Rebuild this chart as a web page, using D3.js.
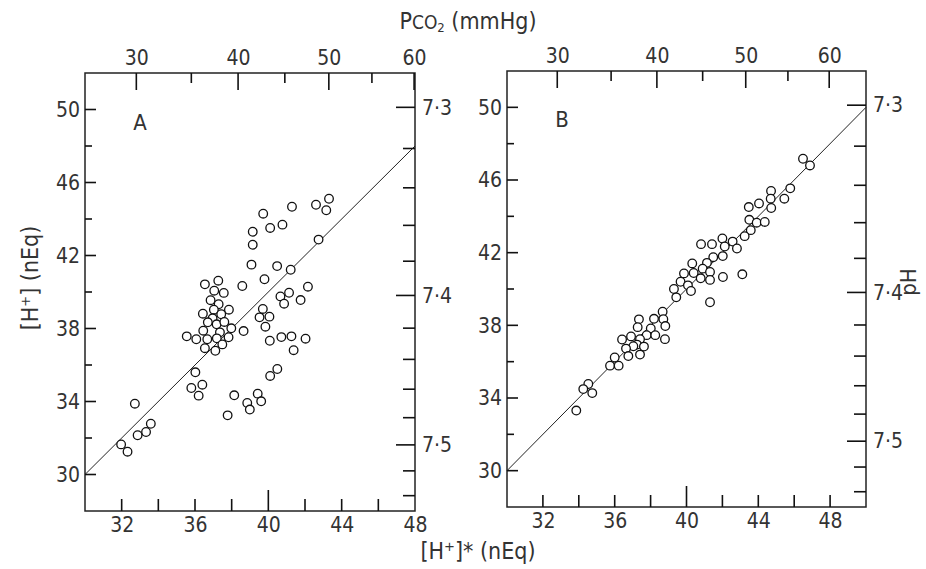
<!DOCTYPE html>
<html>
<head>
<meta charset="utf-8">
<script src="https://cdn.jsdelivr.net/npm/d3@7"></script>
<style>
body{margin:0;background:#fff}
text{font-family:"Liberation Sans Narrow","DejaVu Sans Condensed","Roboto Condensed",sans-serif;fill:#333;font-size:21px}
</style>
</head>
<body>
<svg id="chart"></svg>
<script>
var WIDTH = 926
var HEIGHT = 569
var svg = d3.select("#chart").attr("width", WIDTH).attr("height", HEIGHT)

// panel A : [H+]* (x) against measured [H+] (y), nEq
var aX = [36.54,37.27,37.05,37.57,36.85,37.29,37.85,37.03,36.43,37.43,36.96,36.70,37.18,37.60,37.98,36.45,37.36,35.55,36.07,36.67,37.19,37.83,37.49,36.54,37.11,36.02,35.80,36.40,36.20,32.72,38.14,39.42,39.61,38.85,38.99,37.78,33.59,33.33,32.87,31.97,32.32,43.31,42.60,43.16,41.29,39.72,40.77,40.10,39.15,39.15,42.74,39.08,40.48,41.22,39.79,38.58,42.16,41.13,40.66,40.86,41.76,39.70,39.52,40.06,39.84,38.65,40.08,40.71,41.26,42.03,41.38,40.49,40.10]
var aY = [40.42,40.62,40.07,39.95,39.55,39.33,39.03,39.03,38.81,38.78,38.56,38.34,38.23,38.36,38.01,37.88,37.79,37.57,37.41,37.41,37.46,37.52,37.13,36.92,36.78,35.60,34.74,34.92,34.32,33.88,34.34,34.43,34.01,33.92,33.56,33.24,32.78,32.33,32.15,31.65,31.25,45.11,44.78,44.48,44.67,44.29,43.69,43.51,43.30,42.59,42.87,41.50,41.42,41.22,40.70,40.33,40.29,39.96,39.76,39.36,39.56,39.07,38.61,38.65,38.10,37.86,37.33,37.53,37.57,37.44,36.81,35.78,35.40]

// panel B
var bX = [46.49,46.88,45.78,44.71,44.69,45.45,44.04,43.47,44.72,43.50,43.91,44.36,43.58,43.24,42.00,42.57,40.81,41.42,42.13,42.81,41.49,42.02,41.14,40.32,40.90,41.31,39.86,40.40,40.79,41.31,42.03,43.11,39.67,40.08,40.25,41.31,39.30,39.43,38.67,38.71,37.35,38.19,38.82,37.28,38.01,37.78,38.26,36.91,37.41,38.80,36.41,37.24,37.04,37.63,36.63,36.76,37.41,36.00,35.74,36.22,34.53,34.25,34.75,33.86]
var bY = [47.17,46.80,45.54,45.40,44.97,44.97,44.71,44.51,44.46,43.81,43.65,43.69,43.24,42.91,42.78,42.61,42.47,42.47,42.34,42.23,41.75,41.81,41.44,41.41,41.12,40.94,40.86,40.88,40.59,40.50,40.66,40.81,40.40,40.20,39.89,39.27,40.00,39.54,38.75,38.34,38.33,38.36,37.96,37.90,37.83,37.46,37.46,37.39,37.24,37.24,37.22,36.94,36.85,36.83,36.72,36.31,36.39,36.23,35.78,35.78,34.77,34.49,34.27,33.31]

var yTicks = [30,34,38,42,46,50]
var yMinor = [32,36,40,44,48]
var xTicksAll = [32,34,36,38,40,42,44,46,48]
var xLabels = [32,36,40,44,48]
var pco2Ticks = [30,35,40,45,50,55,60]
var pco2Labels = [30,40,50,60]
var pco2AtH = [32.8,35.8,38.35,40.9,43.3,45.65,47.95]   // where each PCO2 tick sits on the [H+]* scale
var phTicks = [7.30,7.32,7.34,7.36,7.38,7.40,7.42,7.44,7.46,7.48,7.50,7.52,7.54]
var phLabels = [7.3,7.4,7.5]

var panels = [
  {name:"A", xs:aX, ys:aY, xmax:48, left:85, right:415, top:73, bottom:511},
  {name:"B", xs:bX, ys:bY, xmax:50, left:507, right:866, top:71, bottom:507}
]

function styleAxis(sel){
  sel.attr("font-size", null).attr("font-family", null)
  sel.select(".domain").remove()
  sel.selectAll(".tick line").remove()
}

function isMajorPh(d){ return phLabels.indexOf(+d.toFixed(2)) >= 0 }

var tickLayer = []

panels.forEach(function(p){
  var x = d3.scaleLinear().domain([30, p.xmax]).range([p.left, p.right])
  var y = d3.scaleLinear().domain([28, 52]).range([p.bottom, p.top])
  var pco2 = d3.scaleLinear().domain(pco2Ticks).range(pco2AtH.map(function(h){ return x(h) }))
  var ph = d3.scaleLinear().domain(phTicks).range(phTicks.map(function(v){ return y(Math.pow(10, 9 - v)) }))
  var xTicks = xTicksAll.filter(function(d){ return d < p.xmax })
  var g = svg.append("g")

  g.append("rect")
    .attr("x", p.left).attr("y", p.top)
    .attr("width", p.right - p.left).attr("height", p.bottom - p.top)
    .attr("fill", "none").attr("stroke", "#222").attr("stroke-width", 1.5)

  // tick marks, all pointing into the panel: [x1, y1, x2, y2]
  yTicks.forEach(function(t){ tickLayer.push([p.left, y(t), p.left + 11, y(t)]) })
  yMinor.forEach(function(t){ tickLayer.push([p.left, y(t), p.left + 7, y(t)]) })
  xTicks.forEach(function(t){ tickLayer.push([x(t), p.bottom, x(t), p.bottom - (t == 40 ? 21 : 12)]) })
  pco2Ticks.forEach(function(t){ tickLayer.push([pco2(t), p.top, pco2(t), p.top + (pco2Labels.indexOf(t) >= 0 ? 17 : 10)]) })
  phTicks.forEach(function(t){ tickLayer.push([p.right, ph(t), p.right - (isMajorPh(t) ? 19 : 12), ph(t)]) })

  // labels
  g.append("g").attr("transform", "translate(" + p.left + ",0)")
    .call(d3.axisLeft(y).tickValues(yTicks).tickSize(0).tickPadding(5))
    .call(styleAxis)

  g.append("g").attr("transform", "translate(0," + p.bottom + ")")
    .call(d3.axisBottom(x).tickValues(xLabels).tickSize(0).tickPadding(6))
    .call(styleAxis)

  g.append("g").attr("transform", "translate(0," + p.top + ")")
    .call(d3.axisTop(pco2).tickValues(pco2Labels).tickSize(0).tickPadding(8))
    .call(styleAxis)

  g.append("g").attr("transform", "translate(" + p.right + ",0)")
    .call(d3.axisRight(ph).tickValues(phTicks.filter(isMajorPh)).tickSize(0).tickPadding(7)
      .tickFormat(function(v){ return d3.format(".1f")(v).replace(".", "·") }))
    .call(styleAxis)

  // line of identity
  g.append("path")
    .datum([30, p.xmax])
    .attr("d", d3.line().x(function(v){ return x(v) }).y(function(v){ return y(v) }))
    .attr("fill", "none").attr("stroke", "#222").attr("stroke-width", 1)

  g.selectAll(".dot")
    .data(d3.zip(p.xs, p.ys))
    .enter()
    .append("circle")
    .attr("class", "dot")
    .attr("cx", function(v){ return x(v[0]) })
    .attr("cy", function(v){ return y(v[1]) })
    .attr("r", 4.3)
    .attr("fill", "#fff").attr("stroke", "#111").attr("stroke-width", 1.3)

  g.append("text").attr("x", x(30) + 55).attr("y", y(50) + 20)
    .attr("text-anchor", "middle").style("font-size", "22px").text(p.name)
})

// ticks drawn last, on top of everything
svg.append("g").selectAll("path.tk")
  .data(tickLayer)
  .enter()
  .append("path")
  .attr("class", "tk")
  .attr("d", function(t){ return d3.line()([[t[0], t[1]], [t[2], t[3]]]) })
  .attr("stroke", "#111").attr("stroke-width", 1.6).attr("fill", "none")

// titles
var topTitle = svg.append("text").attr("x", 468).attr("y", 29).attr("text-anchor", "middle").style("font-size", "23px")
topTitle.append("tspan").text("P")
topTitle.append("tspan").style("font-size", "19px").text("CO")
topTitle.append("tspan").style("font-size", "13px").attr("dy", 3).text("2")
topTitle.append("tspan").attr("dy", -3).text(" (mmHg)")

svg.append("text").attr("x", 478).attr("y", 559).attr("text-anchor", "middle").style("font-size", "23px")
  .text("[H⁺]* (nEq)")

svg.append("text").attr("transform", "translate(38,278) rotate(-90)").attr("text-anchor", "middle")
  .style("font-size", "23px").text("[H⁺] (nEq)")

svg.append("text").attr("transform", "translate(916,282) rotate(-90)").attr("text-anchor", "middle")
  .style("font-size", "22px").text("pH")
</script>
</body>
</html>
